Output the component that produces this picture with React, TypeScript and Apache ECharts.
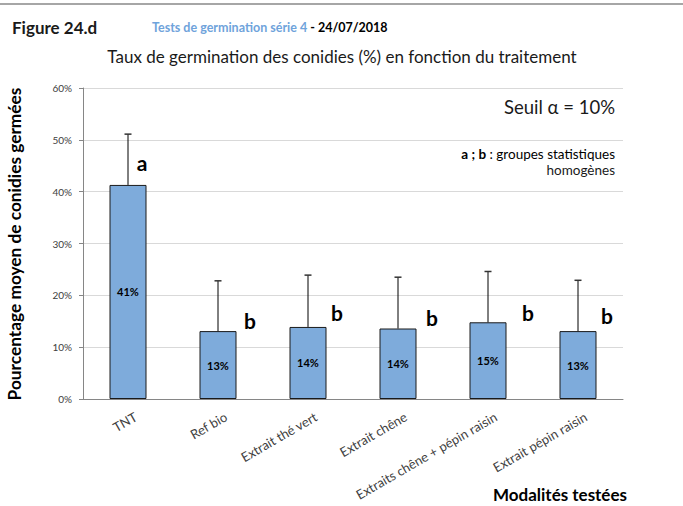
import React, { useEffect, useRef } from "react";
import * as echarts from "echarts";

const categories = [
  "TNT",
  "Ref bio",
  "Extrait thé vert",
  "Extrait chêne",
  "Extraits chêne + pépin raisin",
  "Extrait pépin raisin",
];
const means = [41.3, 13.1, 13.9, 13.6, 14.8, 13.1];
const errorTops = [51.1, 22.8, 23.9, 23.5, 24.6, 22.9];
const groupLetters = ["a", "b", "b", "b", "b", "b"];
const letterLevels = [45.7, 15.2, 16.6, 15.8, 16.6, 16.2];
const letterShift = [14, 32, 29, 34, 40, 29];

const FONT = "Lato, 'Open Sans', sans-serif";

export default function App() {
  const ref = useRef<HTMLDivElement>(null);
  useEffect(() => {
    if (!ref.current) return;
    const chart = echarts.init(ref.current, undefined, { renderer: "svg" });
    const customData = means.map((m, i) => [i, m, errorTops[i], letterLevels[i]]);
    chart.setOption({
      animation: false,
      textStyle: { fontFamily: FONT },
      grid: { left: 83, right: 60, top: 88, bottom: 107 },
      xAxis: {
        type: "category",
        data: categories,
        axisLine: { lineStyle: { color: "#868686" } },
        axisTick: { length: 4, lineStyle: { color: "#868686" } },
        axisLabel: {
          interval: 0,
          rotate: 30,
          fontSize: 13,
          color: "#404040",
          margin: 21,
          padding: [0, -9, 0, 0],
          fontFamily: FONT,
        },
      },
      yAxis: {
        type: "value",
        min: 0,
        max: 60,
        interval: 10,
        axisLine: { show: true, lineStyle: { color: "#868686" } },
        axisTick: { show: true, length: 4, lineStyle: { color: "#868686" } },
        splitLine: { lineStyle: { color: "#d9d9d9", width: 1 } },
        axisLabel: {
          formatter: "{value}%",
          fontSize: 10,
          color: "#404040",
          margin: 11,
          fontFamily: FONT,
        },
      },
      series: [
        {
          type: "bar",
          data: means,
          barWidth: 37,
          itemStyle: { color: "#7EABDB", borderColor: "#1a1a1a", borderWidth: 1 },
          label: {
            show: true,
            position: "inside",
            formatter: (p: any) => Math.round(p.value) + "%",
            fontSize: 11,
            fontWeight: "bold",
            color: "#000",
            fontFamily: FONT,
          },
        },
        {
          type: "custom",
          data: customData,
          z: 5,
          renderItem: (params: any, api: any) => {
            const i = api.value(0);
            const base = api.coord([i, api.value(1)]);
            const top = api.coord([i, api.value(2)]);
            const lp = api.coord([i, api.value(3)]);
            return {
              type: "group",
              children: [
                {
                  type: "line",
                  shape: { x1: base[0], y1: base[1], x2: top[0], y2: top[1] },
                  style: { stroke: "#000", lineWidth: 1 },
                },
                {
                  type: "line",
                  shape: { x1: top[0] - 3.5, y1: top[1], x2: top[0] + 3.5, y2: top[1] },
                  style: { stroke: "#333", lineWidth: 1.5 },
                },
                {
                  type: "text",
                  x: lp[0] + letterShift[params.dataIndex],
                  y: lp[1],
                  style: {
                    text: groupLetters[params.dataIndex],
                    font: `bold 21px ${FONT}`,
                    fill: "#000",
                    align: "center",
                    verticalAlign: "middle",
                  },
                },
              ],
            };
          },
        },
      ],
      graphic: [
        {
          type: "rect",
          shape: { x: 0, y: 3, width: 683, height: 2 },
          style: { fill: "#a6a6a6" },
        },
        {
          type: "text",
          x: 12,
          y: 27,
          style: {
            text: "Figure 24.d",
            font: `bold 17px ${FONT}`,
            fill: "#1a1a1a",
            verticalAlign: "middle",
          },
        },
        {
          type: "text",
          x: 152,
          y: 27,
          style: {
            text: "{b|Tests de germination série 4}{k| - 24/07/2018}",
            verticalAlign: "middle",
            rich: {
              b: { font: `bold 12.5px ${FONT}`, fill: "#6FA3DB", color: "#6FA3DB" },
              k: { font: `bold 12.5px ${FONT}`, fill: "#000", color: "#000" },
            },
          },
        },
        {
          type: "text",
          x: 342,
          y: 56,
          style: {
            text: "Taux de germination des conidies (%) en fonction du traitement",
            font: `17px ${FONT}`,
            fill: "#1a1a1a",
            align: "center",
            verticalAlign: "middle",
          },
        },
        {
          type: "text",
          x: 615,
          y: 107,
          style: {
            text: "Seuil α = 10%",
            font: `18.5px ${FONT}`,
            fill: "#1a1a1a",
            align: "right",
            verticalAlign: "middle",
          },
        },
        {
          type: "text",
          x: 615,
          y: 154,
          style: {
            text: "{b|a ; b}{n| : groupes statistiques}",
            align: "right",
            verticalAlign: "middle",
            rich: {
              b: { font: `bold 13.5px ${FONT}`, color: "#000" },
              n: { font: `13.5px ${FONT}`, color: "#1a1a1a" },
            },
          },
        },
        {
          type: "text",
          x: 615,
          y: 170,
          style: {
            text: "homogènes",
            font: `13.5px ${FONT}`,
            fill: "#1a1a1a",
            align: "right",
            verticalAlign: "middle",
          },
        },
        {
          type: "text",
          x: 14,
          y: 244,
          rotation: Math.PI / 2,
          style: {
            text: "Pourcentage moyen de conidies germées",
            font: `bold 17.3px ${FONT}`,
            fill: "#000",
            align: "center",
            verticalAlign: "middle",
          },
        },
        {
          type: "text",
          x: 627,
          y: 494,
          style: {
            text: "Modalités testées",
            font: `bold 17px ${FONT}`,
            fill: "#000",
            align: "right",
            verticalAlign: "middle",
          },
        },
      ],
    });
    return () => chart.dispose();
  }, []);
  return (
    <div
      ref={ref}
      style={{ position: "fixed", left: 0, top: 0, width: 683, height: 506, background: "#fff" }}
    />
  );
}
